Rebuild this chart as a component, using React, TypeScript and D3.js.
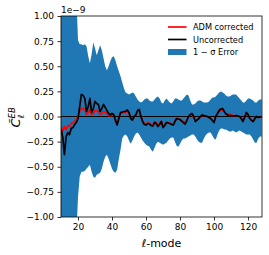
import * as d3 from "d3";
import { useEffect, useRef } from "react";

// multipoles 10..128
const ellStart = 10;

const uncorrected = [
  -0.13, -0.2, -0.38, -0.2, -0.16, -0.18, -0.12, -0.11, -0.08, -0.06,
  -0.02, 0.1, 0.22, 0.21, 0.18, 0.05, 0.1, 0.18, 0.04, 0.08,
  0.15, 0.13, 0.12, 0.05, 0.08, 0.12, 0.09, 0.06, 0.03, 0.015,
  0.03, 0.02, -0.04, -0.085, -0.02, 0.04, 0.045, 0.05, 0.05, 0.065,
  0.04, -0.02, -0.035, 0.0, 0.015, 0.06, 0.07, 0.0, -0.05, -0.08,
  -0.085, -0.07, -0.075, -0.09, -0.095, -0.06, -0.07, -0.1, -0.08, -0.05,
  -0.11, -0.09, -0.06, -0.065, -0.07, -0.08, -0.085, -0.05, -0.02, -0.025,
  -0.03, -0.045, -0.06, -0.075, -0.04, 0.0, 0.02, 0.03, 0.0, -0.05,
  -0.035, -0.02, 0.0, 0.015, 0.01, 0.005, 0.0, -0.01, -0.02, -0.04,
  -0.06, 0.0, 0.03, 0.06, 0.075, 0.08, 0.05, 0.025, 0.015, 0.01,
  0.01, 0.005, 0.005, 0.01, 0.005, 0.0, -0.02, -0.05, -0.01, 0.04,
  0.02, -0.02, -0.04, -0.05, -0.02, 0.0, -0.01, -0.005, -0.005,
];

const admCorrected = [
  -0.1, -0.15, -0.1, -0.13, -0.09, -0.1, -0.07, -0.06, -0.05, -0.03,
  0.0, 0.05, 0.08, 0.08, 0.07, 0.02, 0.04, 0.07, 0.02, 0.03,
  0.06, 0.06, 0.05, 0.02, 0.03, 0.05, 0.04, 0.03, 0.01, 0.005,
  0.02, 0.01, -0.03, -0.07, -0.015, 0.03, 0.035, 0.04, 0.04, 0.055,
  0.035, -0.02, -0.03, 0.0, 0.01, 0.05, 0.06, 0.0, -0.045, -0.07,
  -0.075, -0.06, -0.065, -0.08, -0.085, -0.05, -0.06, -0.085, -0.07, -0.045,
  -0.095, -0.08, -0.055, -0.06, -0.065, -0.07, -0.075, -0.045, -0.02, -0.025,
  -0.03, -0.04, -0.055, -0.065, -0.035, 0.0, 0.015, 0.02, -0.01, -0.035,
  -0.03, -0.025, -0.005, 0.01, 0.01, 0.005, 0.0, -0.01, -0.02, -0.035,
  -0.05, 0.0, 0.025, 0.05, 0.06, 0.065, 0.045, 0.03, 0.025, 0.02,
  0.02, 0.01, 0.005, 0.01, 0.005, 0.0, -0.02, -0.045, -0.01, 0.035,
  0.02, -0.015, -0.035, -0.045, -0.02, 0.0, -0.01, -0.005, -0.005,
];

const errUpper = [
  1.6, 1.6, 1.6, 1.6, 1.6, 1.6, 1.6, 1.6, 1.6, 1.2,
  0.76, 0.72, 0.72, 0.71, 0.72, 0.7, 0.6, 0.53, 0.62, 0.74,
  0.68, 0.61, 0.66, 0.71, 0.66, 0.58, 0.5, 0.46, 0.5, 0.55,
  0.59, 0.6, 0.56, 0.5, 0.45, 0.4, 0.34, 0.28, 0.24, 0.23,
  0.22, 0.23, 0.24, 0.23, 0.2, 0.17, 0.15, 0.14, 0.15, 0.17,
  0.18, 0.18, 0.16, 0.15, 0.15, 0.17, 0.19, 0.2, 0.18, 0.14,
  0.13, 0.16, 0.18, 0.16, 0.14, 0.13, 0.15, 0.18, 0.18, 0.17,
  0.16, 0.16, 0.18, 0.2, 0.22, 0.21, 0.16, 0.12, 0.12, 0.13,
  0.15, 0.16, 0.16, 0.15, 0.14, 0.14, 0.14, 0.15, 0.17, 0.19,
  0.19, 0.2, 0.22, 0.24, 0.25, 0.24, 0.23, 0.21, 0.2, 0.2,
  0.21, 0.22, 0.22, 0.22, 0.2, 0.18, 0.16, 0.14, 0.14, 0.16,
  0.18, 0.18, 0.17, 0.16, 0.14, 0.14, 0.16, 0.17, 0.17,
];

const errLower = [
  -1.6, -1.6, -1.6, -1.6, -1.6, -1.6, -1.6, -1.6, -1.6, -1.2,
  -0.8, -0.6, -0.55, -0.55, -0.54, -0.52, -0.5, -0.48, -0.55, -0.6,
  -0.61, -0.58, -0.57, -0.56, -0.52, -0.45, -0.4, -0.38, -0.42, -0.47,
  -0.52, -0.55, -0.56, -0.53, -0.42, -0.33, -0.22, -0.19, -0.18, -0.2,
  -0.24, -0.27, -0.24, -0.2, -0.17, -0.16, -0.18, -0.21, -0.24, -0.26,
  -0.28, -0.29, -0.3, -0.33, -0.35, -0.31, -0.27, -0.25, -0.26, -0.27,
  -0.28, -0.27, -0.26, -0.24, -0.22, -0.21, -0.21, -0.25, -0.29, -0.3,
  -0.27, -0.24, -0.22, -0.22, -0.21, -0.2, -0.19, -0.18, -0.18, -0.2,
  -0.23, -0.25, -0.26, -0.26, -0.22, -0.19, -0.17, -0.16, -0.16, -0.19,
  -0.22, -0.23, -0.18, -0.14, -0.12, -0.12, -0.13, -0.13, -0.14, -0.15,
  -0.15, -0.14, -0.15, -0.16, -0.15, -0.14, -0.15, -0.16, -0.17, -0.18,
  -0.18, -0.18, -0.2, -0.23, -0.26, -0.26, -0.22, -0.2, -0.2,
];

const yTicks = [-1.0, -0.75, -0.5, -0.25, 0.0, 0.25, 0.5, 0.75, 1.0];
const xTicks = [20, 40, 60, 80, 100, 120];

const legendItems = [
  { label: "ADM corrected", kind: "line", color: "#ff0000" },
  { label: "Uncorrected", kind: "line", color: "#000000" },
  { label: "1 \u2212 \u03c3 Error", kind: "patch", color: "#1f77b4" },
];

const App = () => {
  const svgRef = useRef<SVGSVGElement | null>(null);
  const w = 269;
  const h = 255;
  const m = { top: 16, right: 7, bottom: 38, left: 61 };
  const iw = w - m.left - m.right;
  const ih = h - m.top - m.bottom;

  useEffect(() => {
    if (!svgRef.current) return;
    const svg = d3.select(svgRef.current);
    svg.selectAll("*").remove();
    const font = "DejaVu Sans, sans-serif";

    const pts = uncorrected.map((v, i) => ({
      ell: ellStart + i,
      unc: v,
      adm: admCorrected[i],
      lo: errLower[i],
      hi: errUpper[i],
    }));

    const x = d3.scaleLinear().domain([10, 128.2]).range([0, iw]);
    const y = d3.scaleLinear().domain([-1, 1]).range([ih, 0]);

    svg.append("defs").append("clipPath").attr("id", "plotclip")
      .append("rect").attr("width", iw).attr("height", ih);

    const g = svg.append("g").attr("transform", `translate(${m.left},${m.top})`);
    const plot = g.append("g").attr("clip-path", "url(#plotclip)");

    const area = d3.area<any>()
      .x(d => x(d.ell))
      .y0(d => y(d.lo))
      .y1(d => y(d.hi));
    plot.append("path").datum(pts).attr("d", area).attr("fill", "#1f77b4");

    plot.append("line")
      .attr("x1", 0).attr("x2", iw)
      .attr("y1", y(0)).attr("y2", y(0))
      .attr("stroke", "#000").attr("stroke-width", 1.2);

    const lineAdm = d3.line<any>().x(d => x(d.ell)).y(d => y(d.adm));
    const lineUnc = d3.line<any>().x(d => x(d.ell)).y(d => y(d.unc));
    plot.append("path").datum(pts).attr("d", lineAdm)
      .attr("fill", "none").attr("stroke", "#ff0000").attr("stroke-width", 1.6)
      .attr("stroke-linejoin", "round");
    plot.append("path").datum(pts).attr("d", lineUnc)
      .attr("fill", "none").attr("stroke", "#000").attr("stroke-width", 1.7)
      .attr("stroke-linejoin", "round");

    // axes
    const yAxis = g.append("g").call(
      d3.axisLeft(y).tickValues(yTicks).tickSize(3.5).tickPadding(3.5)
        .tickFormat(d => d3.format(".2f")(d as number).replace("-", "\u2212"))
    );
    const xAxis = g.append("g").attr("transform", `translate(0,${ih})`).call(
      d3.axisBottom(x).tickValues(xTicks).tickSize(3.5).tickPadding(3.5)
    );
    [yAxis, xAxis].forEach(ax => {
      ax.select(".domain").remove();
      ax.selectAll(".tick line").attr("stroke", "#000").attr("stroke-width", 0.8);
      ax.selectAll(".tick text").attr("fill", "#000")
        .style("font-family", font).style("font-size", "9px");
    });

    g.append("rect").attr("width", iw).attr("height", ih)
      .attr("fill", "none").attr("stroke", "#000").attr("stroke-width", 0.8);

    // offset text
    g.append("text").attr("x", 0).attr("y", -3)
      .style("font-family", font).style("font-size", "9px")
      .text("1e\u22129");

    // x label
    g.append("text").attr("x", iw / 2).attr("y", ih + 30)
      .attr("text-anchor", "middle")
      .style("font-family", font).style("font-size", "11px")
      .text("\u2113-mode");

    // y label (mathtext-like)
    const yl = svg.append("text")
      .attr("transform", `translate(20,${m.top + y(0) + 11}) rotate(-90)`)
      .style("font-family", font).style("font-size", "13px");
    yl.append("tspan").style("font-style", "italic").text("C\u0303");
    yl.append("tspan").attr("dy", -5.5).style("font-size", "8.5px")
      .style("font-style", "italic").text("EB");
    yl.append("tspan").attr("dx", -11).attr("dy", 9.5).style("font-size", "8.5px")
      .style("font-style", "italic").text("\u2113");

    // legend
    const lg = svg.append("g").attr("transform", `translate(168,27)`);
    legendItems.forEach((it, i) => {
      const row = lg.append("g").attr("transform", `translate(0,${i * 12.5})`);
      if (it.kind === "line") {
        row.append("line").attr("x1", 0).attr("x2", 18.5).attr("y1", 0).attr("y2", 0)
          .attr("stroke", it.color).attr("stroke-width", 1.7);
      } else {
        row.append("rect").attr("x", 0).attr("y", -3).attr("width", 18.5).attr("height", 6)
          .attr("fill", it.color);
      }
      row.append("text").attr("x", 25).attr("y", 3)
        .style("font-family", font).style("font-size", "8.2px")
        .text(it.label);
    });
  }, []);

  return (
    <svg ref={svgRef} width={w} height={h}
      style={{ position: "absolute", left: 0, top: 0, background: "#fff" }} />
  );
};

export default App;
